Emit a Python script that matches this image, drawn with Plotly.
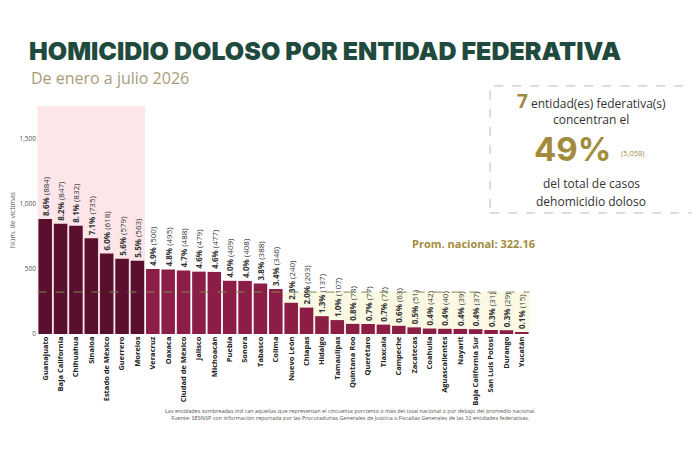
import plotly.graph_objects as go

# datos
entidades = ["Guanajuato", "Baja California", "Chihuahua", "Sinaloa", "Estado de México",
             "Guerrero", "Morelos", "Veracruz", "Oaxaca", "Ciudad de México", "Jalisco",
             "Michoacán", "Puebla", "Sonora", "Tabasco", "Colima", "Nuevo León", "Chiapas",
             "Hidalgo", "Tamaulipas", "Quintana Roo", "Querétaro", "Tlaxcala", "Campeche",
             "Zacatecas", "Coahuila", "Aguascalientes", "Nayarit", "Baja California Sur",
             "San Luis Potosí", "Durango", "Yucatán"]
victimas = [884, 847, 832, 735, 618, 579, 563, 500, 495, 488, 479, 477, 409, 408, 388, 346,
            240, 203, 137, 107, 78, 77, 72, 63, 51, 42, 40, 39, 37, 31, 29, 15]
porcentaje = [8.6, 8.2, 8.1, 7.1, 6.0, 5.6, 5.5, 4.9, 4.8, 4.7, 4.6, 4.6, 4.0, 4.0, 3.8, 3.4,
              2.3, 2.0, 1.3, 1.0, 0.8, 0.7, 0.7, 0.6, 0.5, 0.4, 0.4, 0.4, 0.4, 0.3, 0.3, 0.1]
promedio = 322.16
n_top = 7          # entidades sombreadas (concentran ~50%)
primera_bajo = 16  # primera entidad por debajo del promedio
y_ticks = [0, 500, 1000, 1500]
y_labels = ["0", "500", "1,000", "1,500"]

FONT = "Open Sans"
oscuro = "#5a0f2e"
normal = "#8c1d47"
dorado = "#a38b3c"

colores = [oscuro if i < n_top else normal for i in range(len(entidades))]
textos = [f"<b>{p:.1f}%</b> ({v})" for p, v in zip(porcentaje, victimas)]

fig = go.Figure()
fig.add_trace(go.Bar(
    x=entidades, y=victimas, marker_color=colores, marker_line_width=0,
    text=textos, textposition="outside", textangle=-90, constraintext="none",
    textfont=dict(family=FONT, size=8, color="#333"), cliponaxis=False,
    hoverinfo="x+y"
))

# zona sombreada de las entidades que concentran la mitad
fig.add_shape(type="rect", xref="x", yref="paper", x0=-0.5, x1=n_top - 0.5, y0=0, y1=1,
              fillcolor="#fde6ea", line_width=0, layer="below")
# zona bajo el promedio
fig.add_shape(type="rect", xref="x", yref="y", x0=primera_bajo - 0.5, x1=len(entidades) - 0.5,
              y0=0, y1=promedio, fillcolor="#fbf9e4", line_width=0, layer="below")
# linea del promedio
fig.add_shape(type="line", xref="x", yref="y", x0=-0.5, x1=len(entidades) - 0.5,
              y0=promedio, y1=promedio, line=dict(color="#7f8658", width=1, dash="dash"))

fig.add_annotation(xref="paper", yref="paper", x=1.014, y=0.395, xanchor="right", yanchor="middle",
                   text="<b>Prom. nacional: 322.16</b>", showarrow=False,
                   font=dict(family=FONT, size=11, color=dorado))

# titulo y subtitulo
fig.add_annotation(xref="paper", yref="paper", x=-0.02, y=1.24, xanchor="left", yanchor="middle",
                   text="HOMICIDIO DOLOSO POR ENTIDAD FEDERATIVA", showarrow=False,
                   font=dict(family="Inter", size=25, color="#1f4a3d", weight=900))
fig.add_annotation(xref="paper", yref="paper", x=-0.016, y=1.122, xanchor="left", yanchor="middle",
                   text="De enero a julio 2026", showarrow=False,
                   font=dict(family=FONT, size=16, color="#a89c78"))

# recuadro resumen
fig.add_shape(type="rect", xref="paper", yref="paper", x0=0.919, x1=1.333, y0=0.531, y1=1.088,
              line=dict(color="#bbbbbb", width=1, dash="dash"), fillcolor="rgba(0,0,0,0)")
cx = 1.124
fig.add_annotation(xref="paper", yref="paper", x=cx, y=1.022, xanchor="center", yanchor="middle",
                   text=f"<span style='font-size:19px;color:{dorado}'><b>{n_top}</b></span> entidad(es) federativa(s)",
                   showarrow=False, font=dict(family=FONT, size=12, color="#333"))
fig.add_annotation(xref="paper", yref="paper", x=cx, y=0.939, xanchor="center", yanchor="middle",
                   text="concentran el", showarrow=False,
                   font=dict(family=FONT, size=12, color="#333"))
fig.add_annotation(xref="paper", yref="paper", x=1.087, y=0.811, xanchor="center", yanchor="middle",
                   text="<b>49%</b>", showarrow=False,
                   font=dict(family="Inter", size=33, color=dorado, weight=900))
fig.add_annotation(xref="paper", yref="paper", x=1.209, y=0.794, xanchor="center", yanchor="middle",
                   text="(5,058)", showarrow=False,
                   font=dict(family=FONT, size=7.5, color=dorado))
fig.add_annotation(xref="paper", yref="paper", x=cx, y=0.658, xanchor="center", yanchor="middle",
                   text="del total de casos", showarrow=False,
                   font=dict(family=FONT, size=12, color="#333"))
fig.add_annotation(xref="paper", yref="paper", x=cx, y=0.583, xanchor="center", yanchor="middle",
                   text="dehomicidio doloso", showarrow=False,
                   font=dict(family=FONT, size=12, color="#333"))

# notas
fig.add_annotation(xref="paper", yref="paper", x=0.635, y=-0.353, xanchor="center", yanchor="middle",
                   text="Las entidades sombreadas ind can aquellas que representan el cincuenta porciento o más del total nacional o por debajo del promedio nacional.<br>Fuente: SESNSP con información reportada por las Procuradurías Generales de Justicia o Fiscalías Generales de las 32 entidades federativas.",
                   showarrow=False, align="center",
                   font=dict(family=FONT, size=5.5, color="#555"))

# la pagina deja ~8px de margen, por eso l/t mas chicos
fig.update_layout(
    width=700, height=460,
    margin=dict(l=29, r=178, t=98, b=134),
    paper_bgcolor="white", plot_bgcolor="white",
    showlegend=False, bargap=0.12,
    font=dict(family=FONT),
    xaxis=dict(tickangle=-90, showgrid=False, showline=False, ticks="", automargin=False,
               tickfont=dict(family=FONT, size=7.5, color="#222", weight="bold")),
    yaxis=dict(range=[0, 1752], tickvals=y_ticks, ticktext=y_labels, showgrid=False,
               zeroline=False, showline=False, ticks="", automargin=False,
               tickfont=dict(family=FONT, size=6.5, color="#555"),
               title=dict(text="Núm. de víctimas", font=dict(family=FONT, size=7, color="#666"),
                          standoff=4)),
)

fig.write_html("out.html")
